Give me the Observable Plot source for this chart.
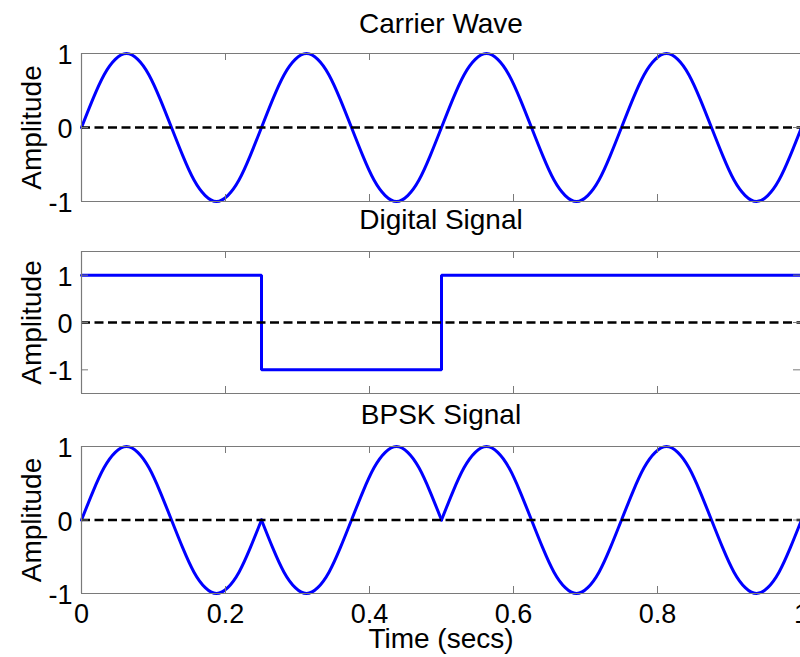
<!DOCTYPE html>
<html><head><meta charset="utf-8">
<script src="https://cdn.jsdelivr.net/npm/d3@7"></script>
<script src="https://cdn.jsdelivr.net/npm/@observablehq/plot@0.6"></script>
<style>
html,body{margin:0;padding:0;background:#fff;overflow:hidden;width:800px;height:657px}
svg{display:block}
</style></head><body><div id="chart"></div>
<script>
// ---- data ----
const titles = ["Carrier Wave", "Digital Signal", "BPSK Signal"];
const yLabel = "Amplitude";
const xLabel = "Time (secs)";
const xTicks = [0, 0.2, 0.4, 0.6, 0.8, 1];
const yTicks = [-1, 0, 1];
const sampleStep = 1 / 64; // seconds between samples
const carrier = [
  0, .38, .71, .92, 1, .92, .71, .38, 0, -.38, -.71, -.92, -1, -.92, -.71, -.38,
  0, .38, .71, .92, 1, .92, .71, .38, 0, -.38, -.71, -.92, -1, -.92, -.71, -.38,
  0, .38, .71, .92, 1, .92, .71, .38, 0, -.38, -.71, -.92, -1, -.92, -.71, -.38,
  0, .38, .71, .92, 1, .92, .71, .38, 0, -.38, -.71, -.92, -1, -.92, -.71, -.38,
  0
];
const bitTimes = [0, 0.25, 0.5, 1];
const bitValues = [1, -1, 1, 1];
const bpsk = [
  0, .38, .71, .92, 1, .92, .71, .38, 0, -.38, -.71, -.92, -1, -.92, -.71, -.38,
  0, -.38, -.71, -.92, -1, -.92, -.71, -.38, 0, .38, .71, .92, 1, .92, .71, .38,
  0, .38, .71, .92, 1, .92, .71, .38, 0, -.38, -.71, -.92, -1, -.92, -.71, -.38,
  0, .38, .71, .92, 1, .92, .71, .38, 0, -.38, -.71, -.92, -1, -.92, -.71, -.38,
  0
];
const bpskBreaks = [0, 0.25, 0.5, 1];

// ---- tables ----
const carrierRows = carrier.map((v, i) => ({t: i * sampleStep, v}));
const digitalRows = bitTimes.map((t, i) => ({t, v: bitValues[i]}));
const bpskRows = [];
for (let s = 0; s < bpskBreaks.length - 1; s++) {
  bpsk.forEach((v, i) => {
    const t = i * sampleStep;
    if (t >= bpskBreaks[s] - 1e-9 && t <= bpskBreaks[s + 1] + 1e-9) bpskRows.push({t, v, seg: s});
  });
}

// ---- style ----
const FONT = "'Liberation Sans', Arial, sans-serif";
const FS = 28;
const TFS = 27;
const BLUE = "#0000ff";
const FRAME = "#7a7a7a";
const TICK = 7;

function panel({height, marginTop, marginBottom, yDomain, title, titleDy, lineMark, showX}) {
  const frameH = height - marginTop - marginBottom;
  const frameW = 800 - 81;
  const marks = [
    lineMark,
    Plot.ruleY([0], {stroke: "#000", strokeWidth: 2.5, strokeDasharray: "9,4.5"}),
    Plot.ruleY(yDomain, {stroke: FRAME, strokeWidth: 1.2}),
    Plot.ruleX([0, 1], {stroke: FRAME, strokeWidth: 1.2}),
    Plot.ruleX(xTicks, {stroke: FRAME, insetBottom: frameH - TICK}),
    Plot.ruleX(xTicks, {stroke: FRAME, insetTop: frameH - TICK}),
    Plot.ruleY(yTicks, {stroke: FRAME, insetRight: frameW - TICK}),
    Plot.ruleY(yTicks, {stroke: FRAME, insetLeft: frameW - TICK}),
    Plot.axisY(yTicks, {tickSize: 0, tickPadding: 9, dy: 2, tickFormat: d => String(d), label: null, fontSize: TFS, fill: "#000"}),
    Plot.text([title], {text: d => d, frameAnchor: "top", textAnchor: "middle", dy: titleDy, lineAnchor: "bottom", fontSize: FS, fill: "#000"}),
    Plot.text([yLabel], {text: d => d, frameAnchor: "left", textAnchor: "middle", rotate: -90, dx: -41, lineAnchor: "bottom", fontSize: FS, fill: "#000"})
  ];
  if (showX) {
    marks.push(Plot.axisX(xTicks, {tickSize: 0, tickPadding: 10, tickFormat: d => String(d), label: null, fontSize: TFS, fill: "#000"}));
    marks.push(Plot.text([xLabel], {text: d => d, frameAnchor: "bottom", textAnchor: "middle", dy: 54, lineAnchor: "bottom", fontSize: FS, fill: "#000"}));
  }
  return Plot.plot({
    width: 800, height, marginTop, marginBottom, marginLeft: 81, marginRight: 0,
    x: {domain: [0, 1], range: [81, 801], axis: showX ? undefined : null},
    y: {domain: yDomain},
    style: {fontFamily: FONT, fontSize: FS + "px", background: "#fff", overflow: "visible", color: "#000"},
    marks
  });
}

const root = document.getElementById("chart");
root.append(panel({
  height: 215, marginTop: 53, marginBottom: 14, yDomain: [-1, 1], title: titles[0], titleDy: -20.5,
  lineMark: Plot.line(carrierRows, {x: "t", y: "v", stroke: BLUE, strokeWidth: 3, curve: "natural"})
}));
root.append(panel({
  height: 195, marginTop: 36, marginBottom: 17, yDomain: [-1.5, 1.5], title: titles[1], titleDy: -23,
  lineMark: Plot.line(digitalRows, {x: "t", y: "v", stroke: BLUE, strokeWidth: 3, curve: "step-after", strokeLinejoin: "miter"})
}));
root.append(panel({
  height: 247, marginTop: 36, marginBottom: 64, yDomain: [-1, 1], title: titles[2], titleDy: -23, showX: true,
  lineMark: Plot.line(bpskRows, {x: "t", y: "v", z: "seg", stroke: BLUE, strokeWidth: 3, curve: "natural"})
}));
</script></body></html>
